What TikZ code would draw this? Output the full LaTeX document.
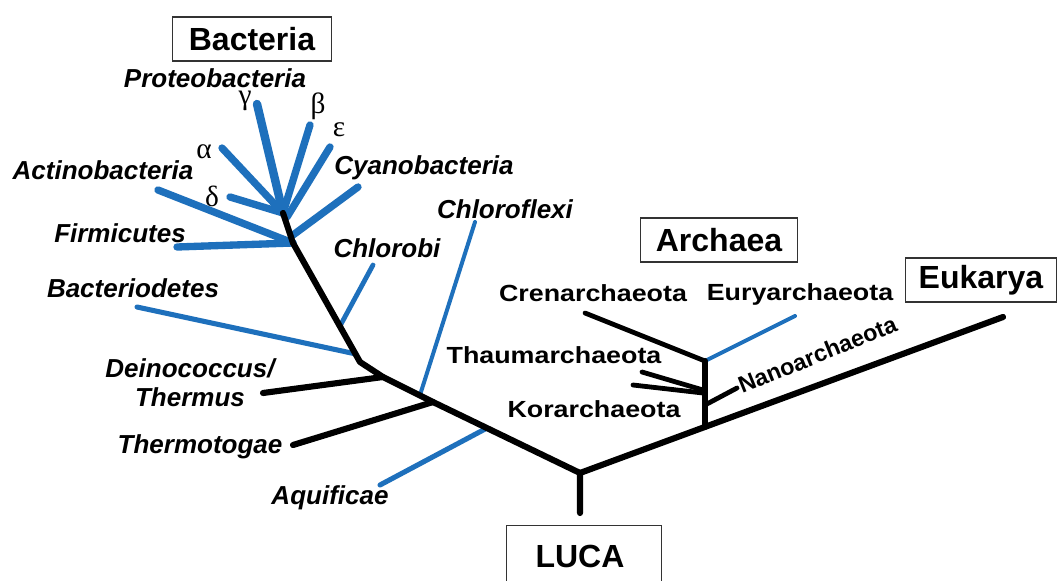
\documentclass[tikz,border=0pt]{standalone}
\usepackage{fontspec}
\setmainfont{Liberation Sans}
\newfontfamily\grkfont{Liberation Serif}
\newfontfamily\archfont[FakeStretch=1.15]{Liberation Sans}
\definecolor{tblue}{RGB}{30,112,188}
\begin{document}
\begin{tikzpicture}[x=0.75pt,y=-0.75pt,
  lab/.style={font=\fontsize{19.5}{21}\selectfont\bfseries\itshape, inner sep=0pt},
  alab/.style={font=\archfont\fontsize{17.5}{20}\selectfont\bfseries, inner sep=0pt},
  nlab/.style={font=\fontsize{17.5}{20}\selectfont\bfseries, inner sep=0pt},
  grk/.style={font=\grkfont\fontsize{22}{22}\selectfont, inner sep=0pt},
  dombox/.style={draw=black!80, line width=1.2pt, font=\fontsize{24}{28}\selectfont\bfseries, inner sep=0pt},
  blk/.style={line width=4.6pt, black, line cap=round, line join=round},
  blkthin/.style={line width=3.6pt, black, line cap=round},
  bl/.style={line width=5.5pt, tblue, line cap=round},
  blthin/.style={line width=3pt, tblue, line cap=round}]
\clip (0,0) rectangle (1059,581);
\fill[white] (0,0) rectangle (1059,581);

% domain boxes
\node[dombox, minimum width=119pt, minimum height=33pt] (bact) at (252,39) {Bacteria};
\node[dombox, minimum width=118pt, minimum height=33pt] (arch) at (719,240) {Archaea};
\node[dombox, minimum width=113pt, minimum height=33pt] (euk) at (981,280) {Eukarya};
\node[dombox, minimum width=116pt, minimum height=52pt] (luca) at (584,560) {};
\node[font=\fontsize{24}{28}\selectfont\bfseries, inner sep=0pt] (lucat) at (580,556) {LUCA};

% junction coordinates
\coordinate (root) at (580,473);
\coordinate (jaq) at (487,428);
\coordinate (jtt) at (433,402);
\coordinate (jcf) at (420,395);
\coordinate (jdt) at (383,377);
\coordinate (jbd) at (360,362);
\coordinate (jcb) at (340,326);
\coordinate (jcr) at (293,243);
\coordinate (jtop) at (283,213);
\coordinate (jarch) at (705,427);
\coordinate (jeur) at (705,361);
\coordinate (jnan) at (705,405);
\coordinate (jth) at (703,390);

% tip coordinates
\coordinate (tluca) at (580,513);
\coordinate (teuk) at (1003,317);
\coordinate (taq) at (380,485);
\coordinate (ttt) at (293,445);
\coordinate (tcf) at (475,222);
\coordinate (tdt) at (263,393);
\coordinate (tbd) at (137,307);
\coordinate (tcb) at (373,265);
\coordinate (tfi) at (177,247);
\coordinate (tac) at (158,190);
\coordinate (tde) at (230,197);
\coordinate (tal) at (222,148);
\coordinate (tga) at (257,104);
\coordinate (tbe) at (310,125);
\coordinate (tep) at (330,147);
\coordinate (tcy) at (358,187);
\coordinate (tcr) at (585,313);
\coordinate (teu) at (795,316);
\coordinate (tth1) at (642,372);
\coordinate (tth2) at (633,385);
\coordinate (tna) at (737,388);

% blue bacterial branches
\draw[bl] (jcr) -- (tfi);
\draw[bl] (jcr) -- (tac);
\draw[bl] (jtop) -- (tde);
\draw[bl] (jtop) -- (tal);
\draw[bl, line width=6.3pt] (jtop) -- (tga);
\draw[bl] (jtop) -- (tbe);
\draw[bl] (jtop) ++(4,4) -- (tep);
\draw[bl] (jcr) ++(0,-8) -- (tcy);
\draw[bl, line width=3.8pt] (jbd) ++(-4,-8) -- (tbd);
\draw[bl, line width=3.6pt] (jcb) -- (tcb);
\draw[blthin] (jcf) -- (tcf);
\draw[bl, line width=3.8pt] (jaq) -- (taq);

% black backbone
\draw[blk] (tluca) -- (root) -- (jtt) -- (jdt) -- (jbd) -- (jcr) -- (jtop);
\draw[blk] (root) -- (teuk);
\draw[blk] (jtt) -- (ttt);
\draw[blk] (jdt) -- (tdt);

% archaea
\draw[blthin] (jeur) -- (teu);
\draw[blk] (jarch) -- (jeur);
\draw[blkthin] (jeur) -- (tcr);
\draw[blkthin] (jth) -- (tth1);
\draw[blkthin] (jth) ++(0,3) -- (tth2);
\draw[blkthin] (jnan) -- (tna);

% bacterial labels
\node[lab] (lpro) at (215,78) {Proteobacteria};
\node[grk] (lga) at (245,101) {γ};
\node[grk] (lbe) at (318,106) {β};
\node[grk] (lep) at (339,130) {ε};
\node[grk] (lal) at (204,152) {α};
\node[grk] (lde) at (212,196) {δ};
\node[lab] (lac) at (103,170) {Actinobacteria};
\node[lab] (lcy) at (424,168) {Cyanobacteria};
\node[lab] (lfi) at (120,233) {Firmicutes};
\node[lab] (lcb) at (387,248) {Chlorobi};
\node[lab] (lcf) at (505,209) {Chloroflexi};
\node[lab] (lbd) at (133,288) {Bacteriodetes};
\node[lab, align=center] (ldt) at (190,383) {Deinococcus/\\[1pt]Thermus};
\node[lab] (ltt) at (200,447) {Thermotogae};
\node[lab] (laq) at (330,498) {Aquificae};

% archaeal labels
\node[alab] (lcr) at (593,293) {Crenarchaeota};
\node[alab] (leu) at (800,294) {Euryarchaeota};
\node[alab] (lth) at (554,355) {Thaumarchaeota};
\node[alab] (lko) at (594,409) {Korarchaeota};
\node[nlab, rotate=22, anchor=base west] (lna) at (742,394) {Nanoarchaeota};
\end{tikzpicture}
\end{document}
